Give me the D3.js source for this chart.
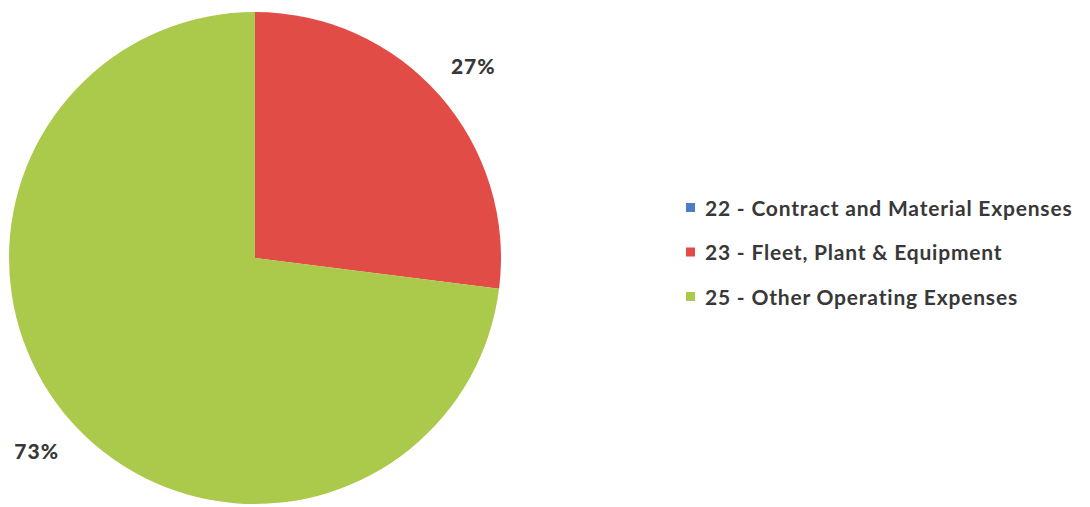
<!DOCTYPE html>
<html>
<head>
<meta charset="utf-8">
<script src="https://cdn.jsdelivr.net/npm/d3@7"></script>
<style>
  html, body { margin: 0; padding: 0; background: #ffffff; }
  svg { display: block; }
</style>
</head>
<body>
<svg id="chart" width="1090" height="507"></svg>
<script>
const categories = ["22 - Contract and Material Expenses", "23 - Fleet, Plant & Equipment", "25 - Other Operating Expenses"];
const values = [0, 27, 73];
const colors = ["#4a7dc6", "#e24c46", "#abc94b"];

const svg = d3.select("#chart");
const cx = 255, cy = 258, r = 246;
const fontFam = "Lato, 'Open Sans', 'Liberation Sans', sans-serif";

const data = categories.map((c, i) => ({ name: c, value: values[i], color: colors[i] }));
const pie = d3.pie().sort(null).value(d => d.value);
const arcs = pie(data);
const arc = d3.arc().innerRadius(0).outerRadius(r);
const labelArc = d3.arc().innerRadius(291).outerRadius(291);
const total = d3.sum(values);

const g = svg.append("g").attr("transform", `translate(${cx},${cy})`);
g.selectAll("path.slice")
  .data(arcs.filter(d => d.data.value > 0))
  .join("path")
  .attr("class", "slice")
  .attr("d", arc)
  .attr("fill", d => d.data.color);

g.selectAll("text.lbl")
  .data(arcs.filter(d => d.data.value > 0))
  .join("text")
  .attr("class", "lbl")
  .attr("transform", d => `translate(${labelArc.centroid(d)})`)
  .attr("text-anchor", "middle")
  .attr("dominant-baseline", "central")
  .attr("font-family", fontFam)
  .attr("font-weight", "900")
  .attr("font-size", 21)
  .attr("letter-spacing", 1)
  .attr("fill", "#383838")
  .text(d => Math.round(d.data.value / total * 100) + "%");

const legendY = d3.scalePoint().domain(categories).range([207, 296]);
const lg = svg.append("g");
const items = lg.selectAll("g.item").data(data).join("g")
  .attr("class", "item")
  .attr("transform", d => `translate(686,${legendY(d.name)})`);
items.append("rect")
  .attr("x", 0).attr("y", -4).attr("width", 9).attr("height", 9)
  .attr("fill", d => d.color);
items.append("text")
  .attr("x", 19).attr("y", 0)
  .attr("dominant-baseline", "central")
  .attr("font-family", fontFam)
  .attr("font-weight", "bold")
  .attr("font-size", 21)
  .attr("letter-spacing", 0.8)
  .attr("fill", "#383838")
  .text(d => d.name);
</script>
</body>
</html>
